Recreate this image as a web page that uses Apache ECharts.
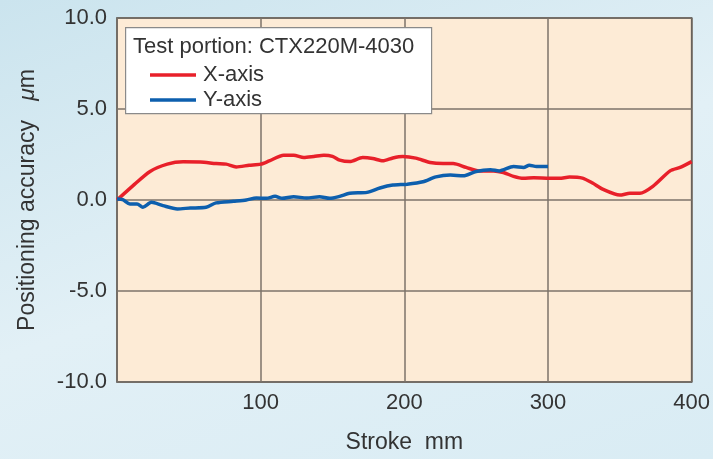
<!DOCTYPE html>
<html>
<head>
<meta charset="utf-8">
<script src="https://cdn.jsdelivr.net/npm/echarts@6/dist/echarts.min.js"></script>
<style>
  html, body { margin: 0; padding: 0; }
  body { background: linear-gradient(160deg, #cbe4ee 0%, #e2f0f6 50%, #d9ecf4 100%); }
  #chart { width: 713px; height: 459px; }
</style>
</head>
<body>
<div id="chart"></div>
<script>
// X-axis curve (stroke mm / error um)
var strokeX = [0, 11, 23, 35, 46, 58, 69, 76, 83, 92, 100, 106, 116, 123, 130, 137, 144, 150, 155, 162, 171, 178, 185, 192, 199, 208, 218, 227, 234, 243, 252, 262, 269, 276, 283, 290, 299, 308, 315, 324, 331, 338, 350, 357, 364, 373, 385, 392, 400];
var errX = [0, 0.78, 1.57, 1.97, 2.1, 2.09, 2.0, 1.97, 1.82, 1.91, 1.97, 2.15, 2.46, 2.46, 2.33, 2.39, 2.46, 2.4, 2.19, 2.11, 2.33, 2.28, 2.15, 2.31, 2.39, 2.3, 2.06, 2.0, 2.0, 1.79, 1.6, 1.6, 1.51, 1.3, 1.19, 1.22, 1.2, 1.19, 1.26, 1.2, 0.93, 0.6, 0.27, 0.37, 0.37, 0.75, 1.6, 1.79, 2.11];

// Y-axis curve
var strokeY = [0, 4, 9, 14, 18, 24, 32, 42, 51, 62, 69, 81, 90, 97, 104, 110, 115, 123, 132, 141, 148, 155, 162, 174, 183, 192, 202, 213, 222, 232, 241, 250, 260, 266, 276, 283, 287, 292, 300];
var errY = [0.05, 0.02, -0.22, -0.22, -0.4, -0.13, -0.31, -0.49, -0.44, -0.4, -0.16, -0.07, 0, 0.11, 0.09, 0.2, 0.09, 0.18, 0.11, 0.18, 0.09, 0.2, 0.37, 0.42, 0.66, 0.82, 0.87, 1.0, 1.27, 1.37, 1.33, 1.57, 1.66, 1.6, 1.84, 1.79, 1.91, 1.84, 1.84];

var legendTitle = 'Test portion: CTX220M-4030';
var seriesNames = ['X-axis', 'Y-axis'];

function zip(a, b) {
    var out = [];
    for (var i = 0; i < a.length; i++) out.push([a[i], b[i]]);
    return out;
}

var font = 'Liberation Sans, Arial, sans-serif';
var chart = echarts.init(document.getElementById('chart'));
chart.setOption({
    animation: false,
    backgroundColor: 'transparent',
    textStyle: { fontFamily: font },
    grid: {
        left: 117, right: 21, top: 18, bottom: 75,
        show: true,
        backgroundColor: '#fdebd6',
        borderColor: '#333333',
        borderWidth: 1.5
    },
    xAxis: {
        type: 'value',
        min: 0, max: 400, interval: 100,
        name: 'Stroke  mm',
        nameLocation: 'middle',
        nameGap: 49,
        nameTextStyle: { fontSize: 23, color: '#333', fontFamily: font },
        axisLine: { show: false },
        axisTick: { show: false },
        axisLabel: {
            fontSize: 22, color: '#333', margin: 10,
            formatter: function(v) { return v === 0 ? '' : v; }
        },
        splitLine: { lineStyle: { color: '#7d736a', width: 1.5 } }
    },
    yAxis: {
        type: 'value',
        min: -10, max: 10, interval: 5,
        name: 'Positioning accuracy   {i|\u03bc}m',
        nameLocation: 'middle',
        nameGap: 78,
        nameTextStyle: {
            fontSize: 23, color: '#333', fontFamily: font,
            rich: { i: { fontSize: 23, color: '#333', fontStyle: 'italic', fontFamily: font } }
        },
        axisLine: { show: false },
        axisTick: { show: false },
        axisLabel: {
            fontSize: 22, color: '#333', margin: 10,
            padding: [7, 0, 0, 0],
            formatter: function(v) { return v.toFixed(1); }
        },
        splitLine: { lineStyle: { color: '#7d736a', width: 1.5 } }
    },
    graphic: [{
        type: 'rect',
        left: 125, top: 27,
        shape: { width: 306, height: 86 },
        style: { fill: '#ffffff', stroke: '#8a8a8a', lineWidth: 1.2 },
        z: 10
    }, {
        type: 'text',
        left: 133, top: 36,
        style: { text: legendTitle, fontSize: 22, fill: '#333', fontFamily: font },
        z: 11
    }],
    legend: {
        orient: 'vertical',
        left: 145, top: 59,
        itemWidth: 46, itemHeight: 3.5,
        itemGap: 3,
        icon: 'rect',
        z: 12,
        textStyle: { fontSize: 22, color: '#333', fontFamily: font, padding: [0, 0, 0, 2] },
        data: seriesNames
    },
    series: [{
        name: seriesNames[0],
        type: 'line',
        data: zip(strokeX, errX),
        smooth: 0.25,
        showSymbol: false,
        color: '#e8202a',
        lineStyle: { width: 3.5, color: '#e8202a' }
    }, {
        name: seriesNames[1],
        type: 'line',
        data: zip(strokeY, errY),
        smooth: 0.25,
        showSymbol: false,
        color: '#0d5fae',
        lineStyle: { width: 3.5, color: '#0d5fae' }
    }]
});
</script>
</body>
</html>
